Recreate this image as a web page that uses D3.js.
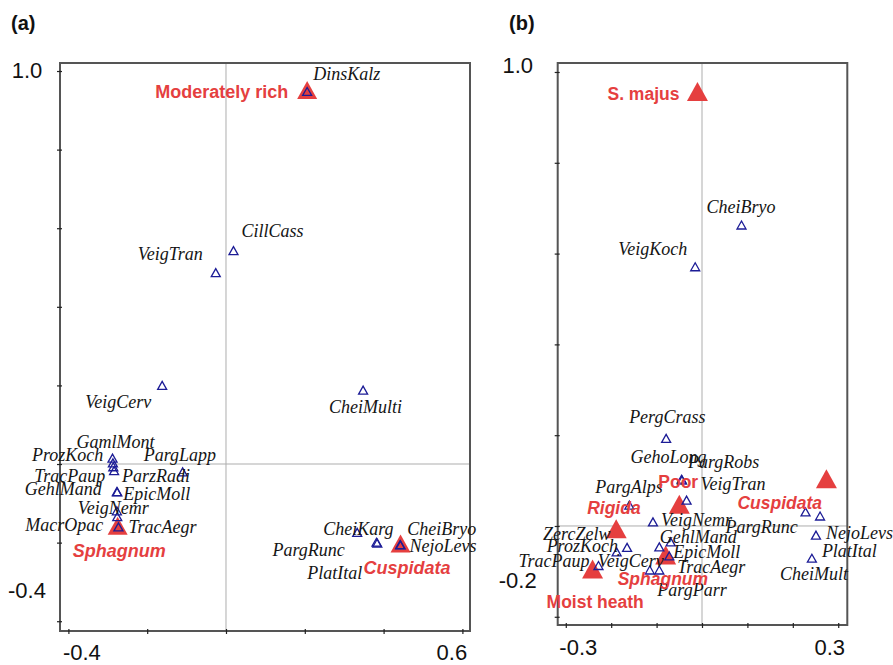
<!DOCTYPE html>
<html><head><meta charset="utf-8">
<script src="https://cdn.jsdelivr.net/npm/d3@7/dist/d3.min.js"></script>
<style>body{margin:0;background:#fff}</style>
</head><body>
<svg id="chart" width="893" height="665"></svg>
<script>
// ---------- DATA: panel (a) ----------
const speciesA  = ["DinsKalz","CillCass","VeigTran","VeigCerv","CheiMulti","GamlMont","ProzKoch","TracPaup","ParzRadi","PargLapp","GehlMand","EpicMoll","VeigNemr","MacrOpac","TracAegr","CheiKarg","PargRunc","PlatItal","CheiBryo","NejoLevs"];
const speciesAX = [0.206,0.019,-0.026,-0.162,0.348,-0.288,-0.287,-0.286,-0.284,-0.110,-0.277,-0.276,-0.277,-0.276,-0.273,0.333,0.382,0.384,0.442,0.443];
const speciesAY = [0.948,0.543,0.487,0.200,0.188,0.015,0.003,-0.007,-0.017,-0.020,-0.070,-0.071,-0.119,-0.134,-0.160,-0.174,-0.199,-0.201,-0.205,-0.206];
const groupsA   = ["Moderately rich","Sphagnum","Cuspidata"];
const groupsAX  = [0.206,-0.275,0.443];
const groupsAY  = [0.952,-0.157,-0.202];
const xTicksA = [-0.4,-0.2,0,0.2,0.4,0.6];
const yTicksA = [-0.4,-0.2,0,0.2,0.4,0.6,0.8,1.0];
const xTickLabelsA = ["-0.4","","","","","0.6"];
const yTickLabelsA = ["-0.4","","","","","","","1.0"];

// ---------- DATA: panel (b) ----------
const speciesB  = ["CheiBryo","VeigKoch","PergCrass","GehoLong","PargRobs","VeigTran","PargAlps","VeigNemr","ZercZelw","ProzKoch","TracPaup","VeigCerv","PargParr","TracAegr","GehlMand","EpicMoll","PargRunc","CheiMult","NejoLevs","PlatItal"];
const speciesBX = [0.087,-0.015,-0.079,-0.045,-0.044,-0.034,-0.160,-0.108,-0.165,-0.188,-0.228,-0.115,-0.094,-0.094,-0.069,-0.072,0.228,0.260,0.251,0.242];
const speciesBY = [0.663,0.571,0.193,0.103,0.101,0.057,0.046,0.009,-0.047,-0.057,-0.087,-0.097,-0.097,-0.046,-0.035,-0.066,0.031,0.022,-0.020,-0.071];
const groupsB   = ["S. majus","Poor","Rigida","Cuspidata","Sphagnum","Moist heath"];
const groupsBX  = [-0.010,-0.050,-0.189,0.274,-0.080,-0.241];
const groupsBY  = [0.957,0.048,-0.006,0.104,-0.064,-0.095];
const xTicksB = [-0.3,-0.2,-0.1,0,0.1,0.2,0.3];
const yTicksB = [-0.2,0,0.2,0.4,0.6,0.8,1.0];
const xTickLabelsB = ["-0.3","","","","","","0.3"];
const yTickLabelsB = ["-0.2","","","","","","1.0"];

// ---------- LAYOUT (label offsets in px, not data) ----------
const labelOffA = {DinsKalz:[6,-11],CillCass:[8,-14],VeigTran:[-78,-13],VeigCerv:[-77,23],CheiMulti:[-34,23],
  GamlMont:[-36,-10],ProzKoch:[-81,-2],TracPaup:[-79,15],ParzRadi:[8,11],PargLapp:[-39,-11],GehlMand:[-92,3],
  EpicMoll:[6,8],VeigNemr:[-39,3],MacrOpac:[-92,14],TracAegr:[10,6],CheiKarg:[-34,3],PargRunc:[-104,14],
  PlatItal:[-70,36],CheiBryo:[7,-10],NejoLevs:[9,7]};
const groupOffA = {"Moderately rich":[-152,8],"Sphagnum":[-45,31],"Cuspidata":[-37,31]};
const labelOffB = {CheiBryo:[-35,-12],VeigKoch:[-77,-12],PergCrass:[-37,-15],GehoLong:[-51,-16],PargRobs:[6,-12],
  VeigTran:[14,-10],PargAlps:[-34,-12],VeigNemr:[8,4],ZercZelw:[-84,-7],ProzKoch:[-70,0],TracPaup:[-80,2],
  VeigCerv:[-52,-3],PargParr:[-2,26],TracAegr:[18,26],GehlMand:[-11,1],EpicMoll:[4,2],PargRunc:[-80,21],
  CheiMult:[-40,64],NejoLevs:[10,4],PlatItal:[10,-1]};
const groupOffB = {"S. majus":[-90,8],"Poor":[-21,-16],"Rigida":[-29,-15],"Cuspidata":[-89,30],"Sphagnum":[-48,30],"Moist heath":[-46,39]};
const italicGroups = new Set(["Sphagnum","Cuspidata","Rigida"]);

const RED = "#e53f3f", BLUE = "#1c1c96", FRAME = "#555555";
const svg = d3.select("#chart");
const tri = (w,h) => `M0,${-h/2}L${w/2},${h/2}L${-w/2},${h/2}Z`;

function panel(cfg){
  const x = d3.scaleLinear().domain(cfg.xDom).range([cfg.left, cfg.right]);
  const y = d3.scaleLinear().domain(cfg.yDom).range([cfg.bottom, cfg.top]);
  const g = svg.append("g");

  // panel letter
  g.append("text").attr("x", cfg.letterX).attr("y", 30).text(cfg.letter)
    .attr("font-family","Liberation Sans, Arial, sans-serif").attr("font-weight","bold").attr("font-size",20).attr("fill","#111");

  // zero lines
  g.append("line").attr("x1", x(0)).attr("x2", x(0)).attr("y1", cfg.top).attr("y2", cfg.bottom)
    .attr("stroke","#adadad").attr("stroke-width",1);
  g.append("line").attr("x1", cfg.left).attr("x2", cfg.right).attr("y1", y(0)).attr("y2", y(0))
    .attr("stroke","#adadad").attr("stroke-width",1);

  // frame
  g.append("rect").attr("x", cfg.left).attr("y", cfg.top).attr("width", cfg.right-cfg.left).attr("height", cfg.bottom-cfg.top)
    .attr("fill","none").attr("stroke",FRAME).attr("stroke-width",2);

  const fmtX = v => cfg.xLabels[cfg.xTicks.findIndex(t => Math.abs(t-v)<1e-9)] || "";
  const fmtY = v => cfg.yLabels[cfg.yTicks.findIndex(t => Math.abs(t-v)<1e-9)] || "";

  // x axis
  const ax = g.append("g").attr("transform",`translate(0,${cfg.bottom})`)
    .call(d3.axisBottom(x).tickValues(cfg.xTicks).tickFormat(fmtX).tickSizeInner(3).tickSizeOuter(0).tickPadding(14));
  ax.select(".domain").remove();
  ax.selectAll(".tick line").attr("y1",-2).attr("y2",3).attr("stroke","#222").attr("stroke-width",1.2);
  ax.selectAll(".tick text").attr("font-family","Liberation Sans, Arial, sans-serif").attr("font-size",22).attr("fill","#111")
    .attr("dy",null).attr("y", cfg.xLabelY - cfg.bottom)
    .attr("dx", (d,i) => i===0 ? cfg.xLabelShift[0] : cfg.xLabelShift[1]);

  // y axis
  const ay = g.append("g").attr("transform",`translate(${cfg.left},0)`)
    .call(d3.axisLeft(y).tickValues(cfg.yTicks).tickFormat(fmtY).tickSizeInner(3).tickSizeOuter(0));
  ay.select(".domain").remove();
  ay.selectAll(".tick line").attr("x1",-3).attr("x2",2).attr("stroke","#222").attr("stroke-width",1.2);
  ay.selectAll(".tick text").attr("font-family","Liberation Sans, Arial, sans-serif").attr("font-size",22).attr("fill","#111")
    .attr("text-anchor","middle").attr("x", cfg.yLabelX)
    .attr("dy", (d,i) => (i===0 ? cfg.yLabelShift[0] : cfg.yLabelShift[1]) + "px");

  // group markers (red)
  const groups = cfg.groups.map((n,i)=>({n, x:cfg.groupsX[i], y:cfg.groupsY[i]}));
  g.selectAll(".grp").data(groups).enter().append("path")
    .attr("d", tri(cfg.redW, cfg.redH)).attr("transform", d=>`translate(${x(d.x)},${y(d.y)})`).attr("fill",RED);

  // species markers (blue open)
  const sp = cfg.species.map((n,i)=>({n, x:cfg.speciesX[i], y:cfg.speciesY[i]}));
  g.selectAll(".sp").data(sp).enter().append("path")
    .attr("d", tri(9,8)).attr("transform", d=>`translate(${x(d.x)},${y(d.y)})`)
    .attr("fill","none").attr("stroke",BLUE).attr("stroke-width",1.3).attr("stroke-linejoin","miter");

  // species labels
  g.selectAll(".spl").data(sp).enter().append("text")
    .attr("x", d=>x(d.x)+cfg.spOff[d.n][0]).attr("y", d=>y(d.y)+cfg.spOff[d.n][1])
    .text(d=>d.n).attr("font-family","Liberation Serif, Times New Roman, serif").attr("font-style","italic")
    .attr("font-size",18).attr("fill","#151515");

  // group labels
  g.selectAll(".grl").data(groups).enter().append("text")
    .attr("x", d=>x(d.x)+cfg.grOff[d.n][0]).attr("y", d=>y(d.y)+cfg.grOff[d.n][1])
    .text(d=>d.n).attr("font-family","Liberation Sans, Arial, sans-serif").attr("font-weight","bold")
    .attr("font-style", d=>italicGroups.has(d.n)?"italic":"normal")
    .attr("font-size",cfg.grSize).attr("fill",RED);
}

panel({letter:"(a)", letterX:11, left:60, right:470, top:63, bottom:631,
  xDom:[-0.4213,0.6193], yDom:[-0.4249,1.0204],
  xTicks:xTicksA, yTicks:yTicksA, xLabels:xTickLabelsA, yLabels:yTickLabelsA,
  xLabelY:660, xLabelShift:[13,-11], yLabelX:-33, yLabelShift:[-24,6],
  species:speciesA, speciesX:speciesAX, speciesY:speciesAY, spOff:labelOffA,
  groups:groupsA, groupsX:groupsAX, groupsY:groupsAY, grOff:groupOffA, grSize:18, redW:20, redH:18});

panel({letter:"(b)", letterX:509, left:557.7, right:847.3, top:63, bottom:625,
  xDom:[-0.3178,0.3200], yDom:[-0.2181,1.0198],
  xTicks:xTicksB, yTicks:yTicksB, xLabels:xTickLabelsB, yLabels:yTickLabelsB,
  xLabelY:655, xLabelShift:[12,-9], yLabelX:-40, yLabelShift:[-29,1],
  species:speciesB, speciesX:speciesBX, speciesY:speciesBY, spOff:labelOffB,
  groups:groupsB, groupsX:groupsBX, groupsY:groupsBY, grOff:groupOffB, grSize:17.5, redW:21, redH:19});
</script>
</body></html>
